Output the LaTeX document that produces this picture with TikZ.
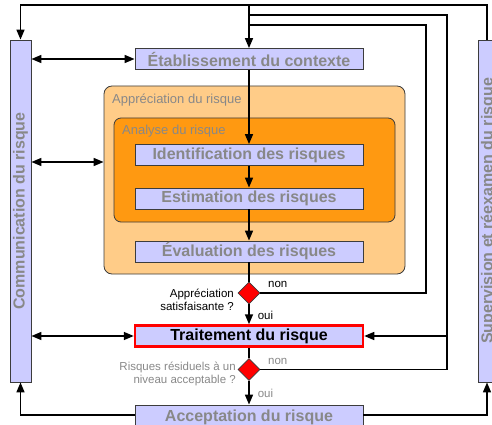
\documentclass[tikz,border=0pt]{standalone}
\usepackage{fontspec}
\setmainfont{Liberation Sans}
\usetikzlibrary{arrows.meta,shapes.geometric}
\definecolor{boxfill}{RGB}{204,204,255}
\definecolor{boxtext}{RGB}{136,136,136}
\definecolor{apprfill}{RGB}{255,204,136}
\definecolor{anafill}{RGB}{255,153,17}
\definecolor{edge}{RGB}{60,60,60}
\tikzset{
  stepbox/.style={draw=edge, line width=0.8pt, fill=boxfill, minimum width=228pt, minimum height=21pt, inner sep=0pt, font=\fontsize{16}{19}\selectfont\bfseries, text=boxtext},
  bar/.style={draw=edge, line width=0.8pt, fill=boxfill, minimum width=21pt, minimum height=342pt, inner sep=0pt},
  bartext/.style={rotate=90, inner sep=0pt, font=\fontsize{16}{19}\selectfont\bfseries, text=boxtext},
  conn/.style={line width=1.5pt, draw=black},
  arr/.style={conn, -{Triangle[length=10pt,width=8pt]}},
  darr/.style={conn, {Triangle[length=10pt,width=8pt]}-{Triangle[length=10pt,width=8pt]}},
  decision/.style={diamond, draw=edge, fill=red, minimum width=22pt, minimum height=22pt, inner sep=0pt, line width=0.6pt},
  lbl/.style={inner sep=0pt, font=\fontsize{11.5}{13.5}\selectfont},
  grp/.style={rounded corners=8pt, draw=edge, line width=0.8pt, inner sep=0pt},
  grplbl/.style={anchor=west, inner sep=0pt, font=\fontsize{13}{15}\selectfont, text=boxtext}
}
\begin{document}
\begin{tikzpicture}[x=1pt,y=-1pt]
\useasboundingbox (0,0) rectangle (492,425);
\clip (0,0) rectangle (492,425);
% groups
\node[grp, fill=apprfill, minimum width=301pt, minimum height=188pt] (appr) at (254.5,180) {};
\node[grp, rounded corners=7pt, fill=anafill, minimum width=281pt, minimum height=104pt] (ana) at (254.5,170) {};
\node[grplbl] (apprlbl) at (112,100) {Appréciation du risque};
\node[grplbl] (analbl) at (122,131) {Analyse du risque};
% side bars
\node[bar] (comm) at (20.5,211) {};
\node[bartext] (commtxt) at (comm.center) {Communication du risque};
\node[bar] (sup) at (488.5,211) {};
\node[bartext] (suptxt) at (sup.center) {Supervision et réexamen du risque};
% steps
\node[stepbox] (etab) at (249,59) {Établissement du contexte};
\node[stepbox] (ident) at (249,155) {Identification des risques};
\node[stepbox] (estim) at (249,198.5) {Estimation des risques};
\node[stepbox] (eval) at (249,251.5) {Évaluation des risques};
\node[stepbox, draw=red, line width=2.5pt, text=black] (trait) at (249,336) {Traitement du risque};
\node[stepbox, minimum height=24pt] (accept) at (249,417) {Acceptation du risque};
% decisions
\node[decision] (d1) at (249,293) {};
\node[decision] (d2) at (249,369.5) {};
\node[lbl, align=right, anchor=east] (q1) at (234,300) {Appréciation\\satisfaisante ?};
\node[lbl, align=right, anchor=east, text=boxtext] (q2) at (236,374) {Risques résiduels à un\\niveau acceptable ?};
% helper coordinates
\coordinate (topR) at (487,5);
\coordinate (loopB) at (447,15);
\coordinate (loopA) at (426,25);
\coordinate (rowA) at (0,162);
\coordinate (rowB) at (0,415);
% top loop
\draw[arr] (sup.north -| topR) -- (topR) -- (comm.north |- topR) -- (comm.north);
\draw[arr] (topR -| etab.north) -- (etab.north);
% main flow
\draw[arr] (etab) -- (ident);
\draw[arr] (ident) -- (estim);
\draw[arr] (estim) -- (eval);
\draw[conn] (eval) -- (d1);
\draw[arr] (d1) -- node[lbl, anchor=west, xshift=8pt, yshift=-1pt] (oui1) {oui} (trait);
\draw[conn] (trait) -- (d2);
\draw[arr] (d2) -- node[lbl, anchor=west, xshift=8pt, yshift=-1pt, text=boxtext] (oui2) {oui} (accept);
% feedback loops
\draw[conn] (d1.east) -| (loopA) -- (loopA -| etab.north);
\draw[conn] (d2.east) -| (loopB) -- (loopB -| etab.north);
\draw[arr] (loopB |- trait.east) -- (trait.east);
\node[lbl, anchor=west] (non1) at (268,284) {non};
\node[lbl, anchor=west, text=boxtext] (non2) at (268,361) {non};
% acceptation outputs
\draw[arr] (accept.east |- rowB) -| (sup.south -| topR);
\draw[arr] (accept.west |- rowB) -| (comm.south);
% communication links
\draw[darr] (comm.east |- etab.west) -- (etab.west);
\draw[darr] (comm.east |- rowA) -- (appr.west |- rowA);
\draw[darr] (comm.east |- trait.west) -- (trait.west);
\end{tikzpicture}
\end{document}
